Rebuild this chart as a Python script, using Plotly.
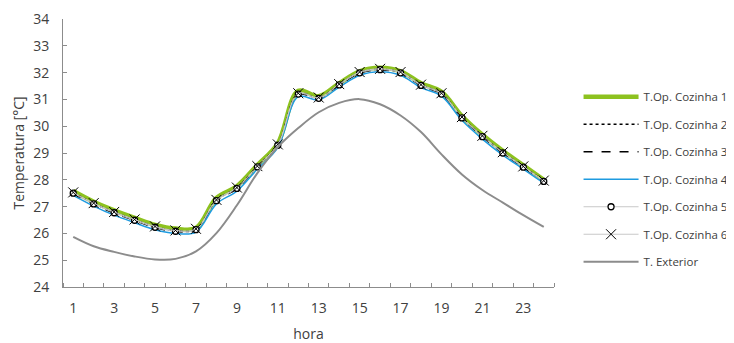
import plotly.graph_objects as go

hours = list(range(1, 25))
s1 = [27.58, 27.18, 26.86, 26.58, 26.32, 26.18, 26.20, 27.32, 27.76, 28.55, 29.36, 31.32,
      31.12, 31.60, 32.05, 32.18, 32.05, 31.60, 31.28, 30.38, 29.68, 29.08, 28.54, 28.00]
s2 = [27.52, 27.12, 26.79, 26.51, 26.25, 26.10, 26.15, 27.24, 27.70, 28.50, 29.31, 31.22,
      31.06, 31.55, 32.00, 32.12, 32.00, 31.54, 31.22, 30.33, 29.63, 29.02, 28.49, 27.96]
s3 = [27.49, 27.09, 26.76, 26.48, 26.22, 26.07, 26.13, 27.21, 27.67, 28.47, 29.28, 31.19,
      31.03, 31.53, 31.98, 32.10, 31.98, 31.51, 31.19, 30.30, 29.60, 28.99, 28.46, 27.93]
s4 = [27.42, 27.02, 26.68, 26.40, 26.14, 26.00, 26.05, 27.10, 27.58, 28.40, 29.20, 31.10,
      30.98, 31.46, 31.90, 32.03, 31.90, 31.44, 31.12, 30.22, 29.52, 28.92, 28.40, 27.88]
s5 = [27.50, 27.10, 26.77, 26.49, 26.23, 26.08, 26.14, 27.22, 27.68, 28.48, 29.29, 31.20,
      31.04, 31.54, 31.99, 32.11, 31.99, 31.52, 31.20, 30.31, 29.61, 29.00, 28.47, 27.94]
s6 = [27.53, 27.13, 26.80, 26.52, 26.26, 26.11, 26.17, 27.25, 27.71, 28.51, 29.32, 31.23,
      31.07, 31.57, 32.02, 32.14, 32.02, 31.55, 31.23, 30.34, 29.64, 29.03, 28.50, 27.97]
ext = [25.87, 25.52, 25.31, 25.14, 25.03, 25.05, 25.33, 26.01, 27.05, 28.25, 29.22, 29.93,
       30.52, 30.87, 31.01, 30.82, 30.40, 29.78, 28.95, 28.20, 27.62, 27.15, 26.68, 26.24]
names = ["T.Op. Cozinha 1", "T.Op. Cozinha 2", "T.Op. Cozinha 3", "T.Op. Cozinha 4",
         "T.Op. Cozinha 5", "T.Op. Cozinha 6", "T. Exterior"]
tick_labels = [str(h) for h in range(1, 24, 2)]

fig = go.Figure()
styles = [
    dict(line=dict(color="#8DC21F", width=4.5), mode="lines"),
    dict(line=dict(color="#000000", width=1.5, dash="dot"), mode="lines"),
    dict(line=dict(color="#000000", width=1.5, dash="dash"), mode="lines"),
    dict(line=dict(color="#1E9BE0", width=1.5), mode="lines"),
    dict(line=dict(color="#C8C8C8", width=1), mode="lines+markers",
         marker=dict(symbol="circle", size=6, color="white", line=dict(color="black", width=1.3))),
    dict(line=dict(color="#C8C8C8", width=1), mode="lines+markers",
         marker=dict(symbol="x-thin", size=10, color="black", line=dict(color="black", width=1))),
    dict(line=dict(color="#8C8C8C", width=2), mode="lines"),
]
for i, (ys, nm, st) in enumerate(zip([s1, s2, s3, s4, s5, s6, ext], names, styles)):
    st["line"]["shape"] = "spline"
    fig.add_trace(go.Scatter(x=hours, y=ys, name=nm, legendgroup=f"g{i}", **st))

axis_col = "#8C8C8C"
fig.update_layout(
    width=726, height=335,
    margin=dict(l=55, r=180, t=11, b=56, autoexpand=False),
    plot_bgcolor="white", paper_bgcolor="white",
    font=dict(family="Open Sans", color="#404040", size=12),
    legend=dict(x=1.05, y=0.764, xanchor="left", yanchor="top",
                font=dict(size=11.5, color="#404040"),
                tracegroupgap=8.5, itemwidth=55, traceorder="grouped"),
    xaxis=dict(range=[0.5, 24.5], tickmode="array", tickvals=list(range(1, 24, 2)),
               ticktext=tick_labels, ticks="", showline=True, linecolor=axis_col, linewidth=1,
               showgrid=False, zeroline=False, tickfont=dict(size=14), ticklabelstandoff=8,
               automargin=False,
               minor=dict(tickmode="linear", tick0=0.5, dtick=1, ticks="inside", ticklen=4,
                          tickcolor=axis_col, showgrid=False),
               title=dict(text="hora", font=dict(size=14), standoff=22)),
    yaxis=dict(range=[24, 34], dtick=1, ticks="inside", ticklen=4, tickcolor=axis_col,
               showline=True, linecolor=axis_col, linewidth=1, showgrid=False, zeroline=False,
               tickfont=dict(size=14), ticklabelstandoff=10, automargin=False,
               title=dict(text="Temperatura [°C]", font=dict(size=14), standoff=5)),
)
fig.write_html("out.html")
